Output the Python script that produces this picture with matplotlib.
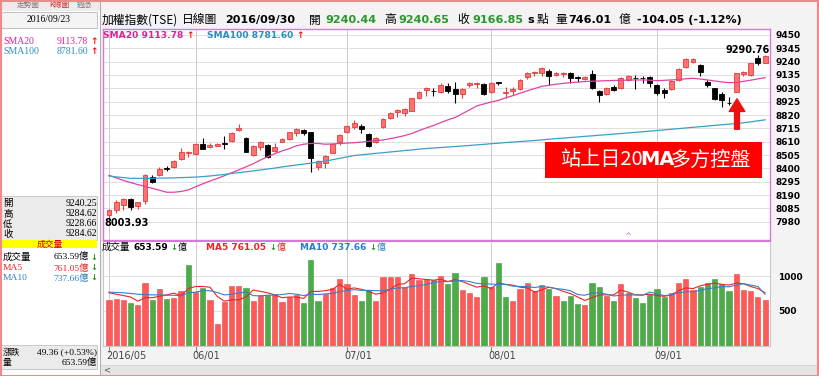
import matplotlib
matplotlib.use('Agg')
import matplotlib.pyplot as plt
from matplotlib.patches import Rectangle, FancyArrowPatch
import numpy as np

W, H = 820, 376
plt.rcParams['font.family'] = ['DejaVu Sans', 'Noto Sans CJK TC']
SERIF = ['Liberation Serif', 'Noto Sans CJK TC']
CJK = ['Noto Sans CJK TC', 'DejaVu Sans']

# ---------------- data ----------------
opens = [8032, 8072, 8111, 8158, 8103, 8145, 8334, 8347, 8400, 8413,
         8471, 8518, 8513, 8592, 8566, 8579, 8600, 8615, 8702, 8636,
         8505, 8565, 8584, 8536, 8610, 8628, 8676, 8702, 8684, 8408,
         8439, 8523, 8610, 8689, 8723, 8736, 8670, 8607, 8723, 8794,
         8846, 8833, 8854, 8951, 9017, 9012, 9004, 9048, 9025, 8983,
         9056, 9064, 9061, 9004, 9077, 8996, 9012, 9022, 9117, 9148,
         9153, 9169, 9138, 9140, 9148, 9117, 9104, 9140, 9009, 8985,
         9043, 9030, 9096, 9114, 9114, 9122, 9056, 9017, 9025, 9096,
         9195, 9235, 9214, 9082, 9030, 8983, 8915, 9004, 9140, 9135,
         9266, 9232]
highs = [8078, 8151, 8169, 8169, 8137, 8355, 8347, 8413, 8418, 8466,
         8557, 8539, 8597, 8636, 8597, 8597, 8657, 8689, 8749, 8644,
         8584, 8615, 8589, 8597, 8636, 8689, 8718, 8710, 8689, 8466,
         8505, 8597, 8670, 8741, 8781, 8747, 8676, 8644, 8794, 8846,
         8865, 8872, 8956, 9009, 9038, 9030, 9069, 9074, 9082, 9030,
         9082, 9082, 9069, 9082, 9082, 9038, 9038, 9101, 9156, 9169,
         9200, 9179, 9161, 9161, 9156, 9127, 9127, 9174, 9017, 9038,
         9056, 9122, 9135, 9135, 9127, 9130, 9061, 9030, 9096, 9187,
         9266, 9266, 9219, 9096, 9035, 9004, 8964, 9153, 9169, 9232,
         9291, 9290]
lows = [8004, 8051, 8072, 8072, 8080, 8119, 8287, 8340, 8382, 8405,
        8466, 8487, 8505, 8550, 8558, 8575, 8552, 8610, 8694, 8526,
        8497, 8544, 8479, 8531, 8605, 8623, 8655, 8663, 8374, 8387,
        8400, 8518, 8584, 8681, 8707, 8681, 8568, 8602, 8718, 8786,
        8802, 8812, 8849, 8943, 8970, 8970, 8996, 8996, 8912, 8951,
        9038, 9030, 8977, 8996, 9056, 8951, 8977, 9017, 9101, 9130,
        9130, 9056, 9130, 9122, 9069, 9082, 9098, 9022, 8925, 8977,
        9012, 9022, 9090, 9022, 9075, 9043, 8977, 8951, 9017, 9090,
        9187, 9227, 9130, 9043, 8938, 8886, 8899, 8999, 9130, 9130,
        9214, 9227]
closes = [8072, 8137, 8158, 8093, 8132, 8347, 8295, 8395, 8392, 8460,
          8531, 8531, 8592, 8552, 8586, 8592, 8594, 8681, 8715, 8531,
          8576, 8610, 8487, 8571, 8628, 8684, 8712, 8681, 8479, 8458,
          8500, 8589, 8662, 8733, 8760, 8707, 8576, 8636, 8786, 8838,
          8859, 8867, 8951, 9004, 9030, 9009, 9056, 9012, 8985, 9022,
          9069, 9074, 8983, 9075, 9069, 9004, 9025, 9096, 9148, 9161,
          9193, 9130, 9153, 9150, 9109, 9113, 9122, 9030, 8977, 9030,
          9017, 9114, 9130, 9109, 9109, 9069, 8996, 8991, 9088, 9180,
          9258, 9258, 9161, 9056, 8946, 8938, 8912, 9148, 9161, 9227,
          9232, 9285]
sma20 = [8345, 8325, 8305, 8288, 8272, 8258, 8243, 8228, 8212, 8212,
         8218, 8230, 8255, 8278, 8300, 8320, 8342, 8365, 8388, 8412,
         8436, 8465, 8492, 8515, 8537, 8555, 8578, 8590, 8596, 8596,
         8590, 8592, 8596, 8599, 8602, 8607, 8613, 8618, 8623, 8634,
         8645, 8658, 8675, 8697, 8718, 8737, 8760, 8782, 8800, 8830,
         8860, 8891, 8907, 8922, 8935, 8955, 8972, 8991, 9010, 9028,
         9045, 9054, 9062, 9069, 9075, 9079, 9083, 9086, 9088, 9090,
         9092, 9093, 9095, 9096, 9096, 9094, 9090, 9093, 9096, 9100,
         9105, 9109, 9103, 9096, 9088, 9080, 9075, 9075, 9085, 9094,
         9104, 9114]
sma100 = [8340, 8333, 8327, 8322, 8321, 8321, 8322, 8323, 8324, 8325,
          8327, 8329, 8331, 8335, 8340, 8346, 8352, 8360, 8366, 8373,
          8380, 8387, 8395, 8402, 8411, 8419, 8426, 8434, 8441, 8449,
          8457, 8468, 8479, 8490, 8501, 8507, 8512, 8518, 8523, 8529,
          8534, 8540, 8545, 8551, 8556, 8560, 8564, 8568, 8572, 8576,
          8580, 8585, 8589, 8594, 8598, 8603, 8607, 8611, 8615, 8619,
          8624, 8629, 8634, 8638, 8643, 8647, 8652, 8656, 8661, 8665,
          8670, 8674, 8679, 8683, 8688, 8693, 8698, 8703, 8708, 8713,
          8718, 8723, 8728, 8733, 8738, 8743, 8748, 8753, 8759, 8766,
          8774, 8782]
volumes = [657, 671, 657, 619, 586, 905, 657, 810, 667, 681,
           786, 1157, 767, 833, 657, 314, 633, 857, 862, 833,
           643, 729, 729, 738, 624, 705, 729, 614, 1229, 648,
           743, 833, 957, 881, 724, 648, 800, 648, 990, 981,
           981, 848, 1029, 943, 957, 943, 1005, 880, 1050, 800,
           760, 700, 980, 850, 1180, 700, 640, 820, 900, 780,
           870, 820, 720, 650, 720, 600, 580, 900, 850, 720,
           640, 880, 760, 680, 610, 750, 820, 700, 760, 900,
           960, 800, 850, 900, 960, 880, 780, 1030, 800, 780,
           700, 654]
vol_up = [1, 1, 1, 0, 1, 1, 0, 1, 0, 1,
          1, 0, 1, 0, 1, 1, 1, 1, 1, 0,
          1, 1, 0, 1, 1, 1, 1, 0, 0, 0,
          1, 1, 1, 1, 1, 0, 0, 1, 1, 1,
          1, 1, 1, 1, 1, 0, 1, 0, 0, 1,
          1, 1, 0, 1, 0, 0, 1, 1, 1, 1,
          1, 0, 1, 0, 0, 0, 1, 0, 0, 1,
          0, 1, 1, 0, 0, 0, 0, 0, 1, 1,
          1, 1, 0, 0, 0, 0, 0, 1, 1, 1,
          1, 1]
vol_ma5 = [760, 740, 720, 700, 640, 690, 690, 710, 730, 755,
           720, 820, 850, 850, 840, 710, 640, 660, 660, 700,
           800, 780, 760, 730, 690, 700, 700, 680, 780, 780,
           790, 810, 880, 810, 830, 810, 780, 740, 760, 810,
           880, 890, 970, 960, 950, 940, 955, 920, 950, 920,
           880, 840, 860, 820, 900, 880, 870, 840, 830, 770,
           800, 840, 820, 780, 750, 700, 650, 690, 730, 730,
           730, 800, 770, 730, 730, 740, 720, 710, 730, 790,
           830, 820, 860, 880, 900, 880, 870, 900, 890, 850,
           820, 761]
vol_ma10 = [770, 765, 760, 750, 740, 735, 730, 730, 725, 725,
            715, 760, 770, 790, 790, 765, 730, 740, 760, 770,
            720, 715, 725, 730, 735, 750, 740, 720, 740, 735,
            745, 750, 780, 790, 805, 795, 795, 790, 790, 810,
            830, 830, 855, 860, 880, 910, 920, 920, 930, 935,
            920, 895, 890, 885, 880, 880, 855, 850, 850, 835,
            850, 840, 820, 810, 790, 735, 725, 755, 760, 740,
            715, 725, 730, 730, 725, 770, 745, 720, 730, 760,
            775, 775, 795, 820, 830, 850, 845, 870, 890, 870,
            850, 738]
price_ticks = [7980, 8085, 8190, 8295, 8400, 8505, 8610, 8715, 8820,
               8925, 9030, 9135, 9240, 9345, 9450]
vol_ticks = [500, 1000]
month_idx = [0, 12, 33, 53, 76]
month_labels = ['2016/05', '06/01', '07/01', '08/01', '09/01']

# ---------------- figure ----------------
fig = plt.figure(figsize=(W / 100, H / 100), dpi=100, facecolor='#f3f3f3')


def fy(y):
    return 1 - y / H


def rect(x0, y0, x1, y1, fc, ec='none', lw=0.8, z=0):
    r = Rectangle((x0 / W, 1 - y1 / H), (x1 - x0) / W, (y1 - y0) / H,
                  transform=fig.transFigure, facecolor=fc, edgecolor=ec,
                  lw=lw, zorder=z)
    fig.add_artist(r)
    return r


def txt(x, y, s, **kw):
    kw.setdefault('va', 'center')
    kw.setdefault('ha', 'left')
    return fig.text(x / W, fy(y), s, **kw)


def add_ax(x0, y0, x1, y1):
    return fig.add_axes([x0 / W, 1 - y1 / H, (x1 - x0) / W, (y1 - y0) / H])


# left panel backgrounds
rect(0, 0, 100, 376, '#ffffff', z=0)
rect(0, 0, 100, 11, '#ececec', z=0)
rect(1, 12, 97, 28, '#f4f4f4', ec='#b8b8b8', lw=0.6)
rect(1, 196, 97, 240, '#ebebeb', ec='#c4c4c4', lw=0.6)
rect(1, 240, 97, 248, '#ffff00')
rect(1, 345, 97, 369, '#ebebeb', ec='#c4c4c4', lw=0.6)
rect(100, 365, 818, 375, '#e4e4e4', ec='#cfcfcf', lw=0.5)

# tabs
txt(17, 5, '走勢圖', fontsize=5.5, color='#777777', family=CJK)
txt(49, 5, 'K線圖', fontsize=5.5, color='#dd2222', family=CJK)
txt(77, 5, '週憑', fontsize=5.5, color='#777777', family=CJK)
txt(49, 20, '2016/09/23', fontsize=7, ha='center', family=SERIF)

# left SMA rows
txt(3, 42, 'SMA20', fontsize=7, color='#dd2299', family=SERIF)
txt(88, 42, '9113.78', fontsize=7, color='#dd2299', ha='right', family=SERIF)
txt(90, 42, '↑', fontsize=6.5, color='#ee1111', weight='bold')
txt(3, 52, 'SMA100', fontsize=7, color='#2a8fc0', family=SERIF)
txt(88, 52, '8781.60', fontsize=7, color='#2a8fc0', ha='right', family=SERIF)
txt(90, 52, '↑', fontsize=6.5, color='#ee1111', weight='bold')

for lab, val, y in [('開', '9240.25', 203), ('高', '9284.62', 214),
                    ('低', '9228.66', 224), ('收', '9284.62', 234)]:
    txt(3, y, lab, fontsize=6.8, family=CJK)
    txt(97, y, val, fontsize=7, ha='right', family=SERIF)

txt(50, 244, '成交量', fontsize=6.3, color='#cc0000', ha='center', family=CJK)
for lab, val, col, y in [('成交量', '653.59億', '#000000', 257),
                         ('MA5', '761.05億', '#ee2222', 268),
                         ('MA10', '737.66億', '#2a7fc0', 278)]:
    txt(3, y, lab, fontsize=6.8, color=col, family=SERIF)
    txt(89, y, val, fontsize=6.8, color=col, ha='right', family=SERIF)
    txt(90.5, y, '↓', fontsize=6, color='#229922', weight='bold')
txt(3, 352, '漲跌', fontsize=6.3, family=CJK)
txt(97, 352, '49.36 (+0.53%)', fontsize=6.8, ha='right', family=SERIF)
txt(3, 362, '量', fontsize=6.3, family=CJK)
txt(97, 362, '653.59億', fontsize=6.8, ha='right', family=SERIF)

# header
HB = dict(fontsize=8, weight='bold')
G = '#2a962a'
txt(102, 20, '加權指數(TSE)', fontsize=8.5, family=CJK)
txt(182, 20, '日線圖', fontsize=8.5, family=CJK)
txt(225, 20, '2016/09/30', **HB)
txt(309, 20, '開', fontsize=8.5, family=CJK)
txt(325, 20, '9240.44', color=G, **HB)
txt(384, 20, '高', fontsize=8.5, family=CJK)
txt(398, 20, '9240.65', color=G, **HB)
txt(457, 20, '收', fontsize=8.5, family=CJK)
txt(472, 20, '9166.85', color=G, **HB)
txt(527, 20, 's', **HB)
txt(537, 20, '點', fontsize=8.5, family=CJK)
txt(555, 20, '量', fontsize=8.5, family=CJK)
txt(568, 20, '746.01', **HB)
txt(619, 20, '億', fontsize=8.5, family=CJK)
txt(637, 20, '-104.05 (-1.12%)', **HB)

# ---------------- price panel ----------------
n = len(closes)
xs = np.arange(n)
o = np.array(opens, float)
c = np.array(closes, float)
is_up = c >= o

ax = add_ax(103, 29, 770, 240)
ax.set_facecolor('white')
ax.set_xlim(-0.83, 91.68)
ax.set_ylim(7836, 9497)
ax.set_axisbelow(True)
ax.yaxis.tick_right()
ax.set_yticks(price_ticks)
ax.set_yticklabels([str(t) for t in price_ticks], fontweight='bold')
ax.tick_params(axis='y', length=0, pad=4, labelsize=6.5)
ax.set_xticks(month_idx)
ax.tick_params(axis='x', length=0, labelbottom=False)
ax.grid(axis='y', color='#dadada', lw=0.6)
ax.grid(axis='x', color='#c4c4c4', lw=0.6)
for s in ax.spines.values():
    s.set_color('#d77ad7')
    s.set_linewidth(1.0)

wick_cols = ['#e23c3c' if u else '#000000' for u in is_up]
ax.vlines(xs, lows, highs, colors=wick_cols, lw=0.8, zorder=2)
ax.bar(xs, np.maximum(np.abs(c - o), 3), bottom=np.minimum(o, c), width=0.68,
       color=['#ff7070' if u else '#000000' for u in is_up],
       edgecolor=wick_cols, lw=0.6, zorder=3)
ax.plot(xs, sma20, color='#e043a3', lw=0.9, zorder=4)
ax.plot(xs, sma100, color='#3aa0c8', lw=0.9, zorder=4)
ax.text(72, 7862, '^', color='#e060c0', fontsize=6, ha='center', va='center')

# legend inside price panel
txt(103, 36, 'SMA20 9113.78', fontsize=6.6, weight='bold', color='#dd2299')
txt(186, 36, '↑', fontsize=6.5, weight='bold', color='#ee1111')
txt(207, 36, 'SMA100 8781.60', fontsize=6.6, weight='bold', color='#2a8fc0')
txt(296, 36, '↑', fontsize=6.5, weight='bold', color='#ee1111')
txt(104, 223, '8003.93', fontsize=7, weight='bold')
txt(770, 50, '9290.76', fontsize=7, weight='bold', ha='right')

# annotation box + arrow
rect(545, 142, 762, 178, '#ff0000', z=5)
txt(643, 160, '站上日20', fontsize=14.5, color='white', ha='right', family=CJK, zorder=6)
txt(657, 160, 'MA', fontsize=14, color='white', ha='center', weight='bold', zorder=6)
txt(671, 160, '多方控盤', fontsize=14.5, color='white', ha='left', family=CJK, zorder=6)
fig.add_artist(FancyArrowPatch(
    (737 / W, fy(132)), (737 / W, fy(96)), transform=fig.transFigure,
    arrowstyle='simple,head_width=1.6,head_length=1.3,tail_width=0.5',
    mutation_scale=7, color='#ee1111', zorder=6))

# ---------------- volume panel ----------------
axv = add_ax(103, 241, 770, 346)
axv.set_facecolor('white')
axv.set_xlim(-0.83, 91.68)
axv.set_ylim(0, 1500)
axv.set_axisbelow(True)
axv.yaxis.tick_right()
axv.set_yticks(vol_ticks)
axv.set_yticklabels([str(t) for t in vol_ticks], fontweight='bold')
axv.tick_params(axis='y', length=0, pad=6, labelsize=6.5)
axv.set_xticks(month_idx)
axv.tick_params(axis='x', length=4, color='#888888', labelbottom=False)
axv.grid(axis='y', color='#dadada', lw=0.6)
axv.grid(axis='x', color='#c4c4c4', lw=0.6)
for s in axv.spines.values():
    s.set_color('#c8c8c8')
    s.set_linewidth(0.8)
axv.spines['top'].set_color('#d77ad7')
axv.bar(xs, volumes, width=0.72,
        color=['#fd5a5a' if u else '#4fab4a' for u in vol_up],
        edgecolor=['#e84848' if u else '#3f9a3c' for u in vol_up], lw=0.4, zorder=2)
axv.plot(xs, vol_ma5, color='#e8262a', lw=0.8, zorder=3)
axv.plot(xs, vol_ma10, color='#3a7fc4', lw=0.8, zorder=3)

txt(102, 247, '成交量', fontsize=6.8, family=CJK)
txt(133, 247, '653.59', fontsize=6.5, weight='bold')
txt(170, 247, '↓', fontsize=6, weight='bold', color='#229922')
txt(178, 247, '億', fontsize=6.5, family=CJK)
txt(206, 247, 'MA5 761.05', fontsize=6.5, weight='bold', color='#ee2222')
txt(269, 247, '↓', fontsize=6, weight='bold', color='#229922')
txt(277, 247, '億', fontsize=6.5, family=CJK, color='#ee2222')
txt(300, 247, 'MA10 737.66', fontsize=6.5, weight='bold', color='#2a7fc0')
txt(369, 247, '↓', fontsize=6, weight='bold', color='#229922')
txt(377, 247, '億', fontsize=6.5, family=CJK, color='#2a7fc0')

# month labels
for i, lab in zip(month_idx, month_labels):
    xp = 109 + 7.21 * i
    txt(xp - 3, 356, lab, fontsize=7, color='#444444')

txt(103, 370, '<', fontsize=6, color='#555555')

# separators and outer border
fig.add_artist(plt.Line2D([100.5 / W, 100.5 / W], [fy(0), fy(376)],
                          transform=fig.transFigure, color='#b0b0b0', lw=0.8))
rect(0.5, 0.5, 818.5, 375.5, 'none', ec='#f08a8a', lw=1.5, z=10)

fig.savefig('out.png', dpi=100, facecolor=fig.get_facecolor())
